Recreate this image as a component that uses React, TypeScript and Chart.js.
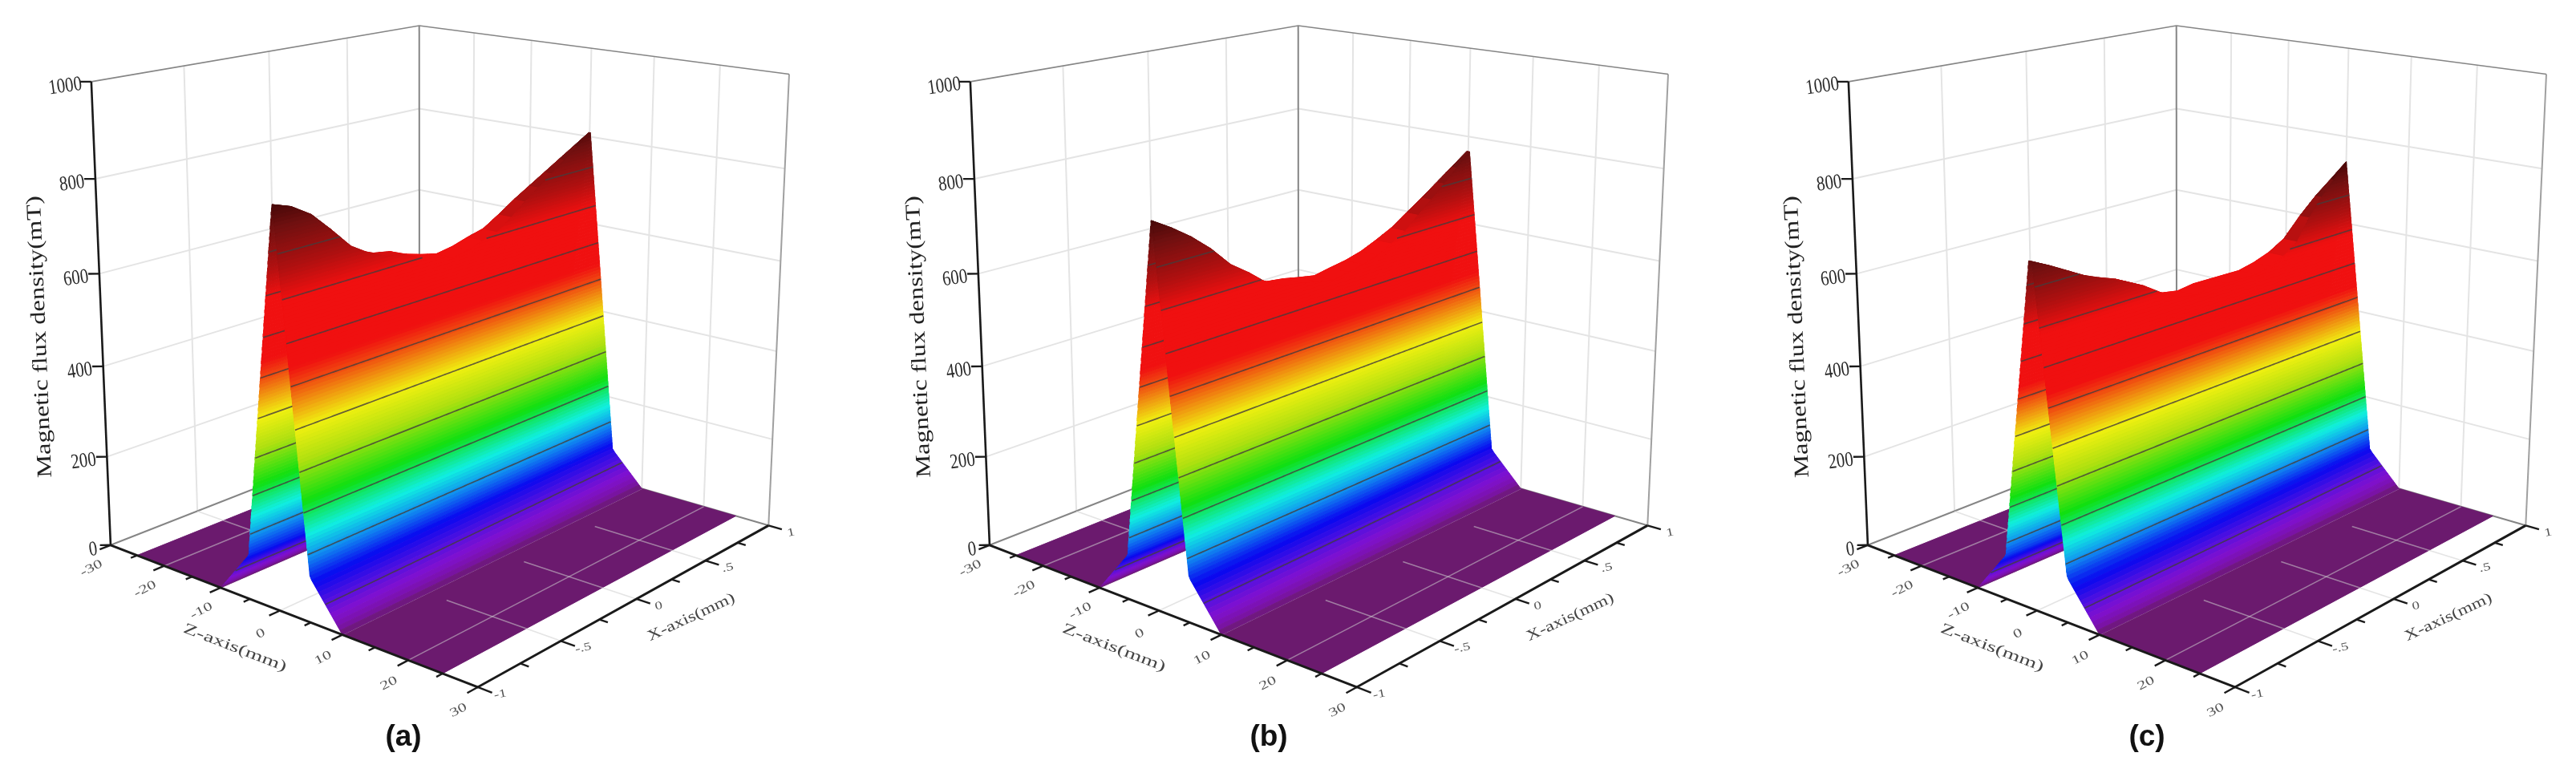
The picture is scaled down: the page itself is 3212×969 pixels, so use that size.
import React, { useEffect, useRef } from 'react';
import Chart from 'chart.js/auto';

const W = 1096, H = 969;
const panelLeft = [0, 1095.5, 2191];

// Peak field along the X axis (mT), one value per xGrid entry
const xGrid = [-1,-0.9,-0.8,-0.7,-0.6,-0.5,-0.4,-0.3,-0.2,-0.1,0,0.1,0.2,0.3,0.4,0.5,0.6,0.7,0.8,0.9,1];
const ridgeA = [826,813,789,750,708,684,668,661,645,634,625,631,642,651,674,699,721,743,765,787,809];
const ridgeB = [795,772,745,712,671,644,613,597,592,584,577,584,590,600,616,634,660,685,712,739,766];
const ridgeC = [716,697,676,655,639,625,606,581,562,555,560,559,558,557,565,578,600,644,681,711,742];
const ridges = [ridgeA, ridgeB, ridgeC];

// Cross-section of the ridge along the Z axis: foot at 10 mm, shoulder at 5 mm
const footZ = [10, 5];
const shoulderAtEnds = [95, 75]; // shoulder height (mT) at x=-1 and x=1
const floorEndZ = 25;

// Contour levels (mT)
const levelsA = [50,141,225,306,390,475,559,644,732];
const levelsB = [52,133,214,295,375,456,539,623,706];
const levelsC = [44,122,200,278,353,432,511,588,667];
const contourLevels = [levelsA, levelsB, levelsC];

const zMajor = [-30,-20,-10,0,10,20,30], zMinor = [-25,-15,-5,5,15,25];
const xMajor = [-1,-0.5,0,0.5,1], xMinor = [-0.75,-0.25,0.25,0.75];
const yMajor = [0,200,400,600,800,1000];
const zLabels = ['-30','-20','-10','0','10','20','30'];
const xLabels = ['-1','-.5','0','.5','1'];
const yLabels = ['0','200','400','600','800','1000'];
const panelNames = ['(a)','(b)','(c)'];
const nameX = [503,486,486];

// Camera: corners of the plot box (x, y/1000, z/30) -> page position
const CAL = [[-1,0,-1,138,684],[-1,1,-1,113.5,101],[1,1,-1,523,34],[1,0,-1,523,524],[1,0,1,958,660],[1,1,1,984,91],[-1,0,1,596,853]];
function solveCam() {
  const A:number[][] = [], b:number[] = [];
  for (const [X,Y,Z,u0,v0] of CAL) {
    const u=u0/1000, v=v0/1000;
    A.push([X,Y,Z,1,0,0,0,0,-u*X,-u*Y,-u*Z]); b.push(u);
    A.push([0,0,0,0,X,Y,Z,1,-v*X,-v*Y,-v*Z]); b.push(v);
  }
  const n=11; const N=Array.from({length:n},()=>new Array(n+1).fill(0));
  for(let r=0;r<A.length;r++) for(let i=0;i<n;i++){ for(let j=0;j<n;j++) N[i][j]+=A[r][i]*A[r][j]; N[i][n]+=A[r][i]*b[r]; }
  for(let i=0;i<n;i++){ let p=i; for(let k=i;k<n;k++) if(Math.abs(N[k][i])>Math.abs(N[p][i])) p=k; [N[i],N[p]]=[N[p],N[i]];
    for(let k=0;k<n;k++) if(k!==i){ const f=N[k][i]/N[i][i]; for(let j=i;j<=n;j++) N[k][j]-=f*N[i][j]; } }
  return N.map((row,i)=>row[n]/row[i]);
}
const M = solveCam();
const proj=(x:number,y:number,z:number)=>{ const Y=y/1000,Z=z/30; const d=M[8]*x+M[9]*Y+M[10]*Z+1;
  return {x:1000*(M[0]*x+M[1]*Y+M[2]*Z+M[3])/d, y:1000*(M[4]*x+M[5]*Y+M[6]*Z+M[7])/d}; };

const colorStops:[number,number[]][]=[[0,[107,26,110]],[12,[122,18,168]],[30,[128,16,208]],[55,[80,16,224]],[85,[8,8,240]],[135,[16,144,240]],[180,[16,240,224]],[245,[16,224,16]],[325,[176,224,16]],[390,[240,240,16]],[440,[240,144,16]],[480,[240,64,16]],[510,[240,16,16]],[640,[240,16,16]],[700,[176,16,16]],[780,[112,16,16]],[826,[70,8,8]]];
function colorAt(h:number){ for(let i=0;i<colorStops.length-1;i++){ const [a,ca]=colorStops[i],[b,cb]=colorStops[i+1]; if(h<=b){ const t=(h-a)/(b-a); return `rgb(${ca.map((c,k)=>Math.round(c+t*(cb[k]-c))).join(',')})`; } } const c=colorStops[colorStops.length-1][1]; return `rgb(${c.join(',')})`; }
const fine=Array.from({length:161},(_,i)=>-1+i/80);
function peakAt(r:number[],x:number){ const f=(x+1)*10; const i=Math.min(19,Math.floor(f)); return r[i]+(f-i)*(r[i+1]-r[i]); }
function runs(r:number[],h:number){ const out:number[][]=[]; let cur:number[]|null=null;
  for(let i=0;i<fine.length;i++){ const x=fine[i],p=peakAt(r,x); if(p>h){ if(!cur){cur=[]; if(i>0){const p0=peakAt(r,fine[i-1]); cur.push(fine[i-1]+(h-p0)/(p-p0)*(x-fine[i-1]));} } cur.push(x);} else if(cur){ const p0=peakAt(r,fine[i-1]); cur.push(fine[i-1]+(h-p0)/(p-p0)*(x-fine[i-1])); out.push(cur); cur=null; } }
  if(cur) out.push(cur); return out; }

const poly=(pts:any[],c:string)=>({data:[...pts,pts[0]],borderColor:c,backgroundColor:c,borderWidth:1,fill:'shape',pointRadius:0,tension:0});
const seg=(pts:any[],c:string,w:number)=>({data:pts,borderColor:c,borderWidth:w,fill:false,pointRadius:0,tension:0});

function buildDatasets(pi:number){ const r=ridges[pi]; const D:any[]=[]; const grid='#e4e4e4', edge='#858585', black='#1a1a1a', floorGrid='rgba(205,205,205,0.55)';
  const top=Math.max(...r), T=top+4, cs=826/top;
  const col=(h:number)=>colorAt(h*cs);
  const kink=(x:number)=>shoulderAtEnds[0]+(x+1)/2*(shoulderAtEnds[1]-shoulderAtEnds[0]);
  const zOf=(h:number,x:number)=>{ const k=kink(x); return h<=k ? footZ[0]+(h/k)*(footZ[1]-footZ[0]) : footZ[1]*(1-(h-k)/(T-k)); };
  for(const x of [-0.5,0,0.5]) D.push(seg([proj(x,0,-30),proj(x,1000,-30)],grid,2));
  for(const y of [200,400,600,800]) D.push(seg([proj(-1,y,-30),proj(1,y,-30)],grid,2));
  for(const z of [-20,-10,0,10,20]) D.push(seg([proj(1,0,z),proj(1,1000,z)],grid,2));
  for(const y of [200,400,600,800]) D.push(seg([proj(1,y,-30),proj(1,y,30)],grid,2));
  D.push(seg([proj(1,0,-30),proj(1,1000,-30)],edge,2));
  D.push(seg([proj(1,0,30),proj(1,1000,30)],'#a0a0a0',2));
  D.push(seg([proj(-1,1000,-30),proj(1,1000,-30),proj(1,1000,30)],edge,1.6));
  D.push(seg([proj(-1,0,-30),proj(1,0,-30),proj(1,0,30)],edge,2));
  const floorC=colorAt(0);
  D.push(poly([proj(-1,0,-floorEndZ),proj(1,0,-floorEndZ),proj(1,0,-footZ[0]),proj(-1,0,-footZ[0])],floorC));
  D.push(poly([proj(-1,0,footZ[0]),proj(1,0,footZ[0]),proj(1,0,floorEndZ),proj(-1,0,floorEndZ)],floorC));
  for(const z of [-20,-10,0,10,20]) D.push(seg([proj(-1,0,z),proj(1,0,z)],floorGrid,1.6));
  for(const x of [-0.5,0,0.5]) { D.push(seg([proj(x,0,-30),proj(x,0,-13)],floorGrid,1.6)); D.push(seg([proj(x,0,13),proj(x,0,30)],floorGrid,1.6)); }
  const step=7, levels:number[]=[]; for(let h=0;h<top;h+=step) levels.push(h);
  const strip=(h0:number,sign:number)=>{ const h1=h0+step; for(const run of runs(r,h0)){ const lo=run.map(x=>proj(x,h0,sign*zOf(h0,x))); const hi=run.map(x=>{const y=Math.min(h1,peakAt(r,x)); return proj(x,y,sign*zOf(y,x));}).reverse(); D.push(poly([...lo,...hi],col(h0+step/2))); } };
  const lineC='rgba(70,60,60,0.8)';
  for(const h of levels) strip(h,-1);
  for(const h of contourLevels[pi]) for(const run of runs(r,h)) D.push(seg(run.map(x=>proj(x,h,-zOf(h,x))),lineC,1.7));
  for(let i=0;i<xGrid.length-1;i++){ const a=xGrid[i],b=xGrid[i+1],pa=r[i],pb=r[i+1]; D.push(poly([proj(a,pa,-zOf(pa,a)),proj(b,pb,-zOf(pb,b)),proj(b,pb,zOf(pb,b)),proj(a,pa,zOf(pa,a))],col((pa+pb)/2))); }
  for(const h of [...levels].reverse()) strip(h,1);
  for(const h of contourLevels[pi]) for(const run of runs(r,h)) D.push(seg(run.map(x=>proj(x,h,zOf(h,x))),lineC,1.7));
  D.push(seg([proj(-1,0,-30),proj(-1,1000,-30)],black,2.6));
  D.push(seg([proj(-1,0,-30),proj(-1,0,30),proj(1,0,30)],black,3));
  for(const y of yMajor) D.push(seg([proj(-1,y,-30),proj(-1.03,y,-31)],black,2.4));
  for(const z of zMajor) D.push(seg([proj(-1,0,z),proj(-1.06,0,z)],black,2.4));
  for(const z of zMinor) D.push(seg([proj(-1,0,z),proj(-1.035,0,z)],black,2.4));
  for(const x of xMajor) D.push(seg([proj(x,0,30),proj(x,0,32)],black,2.4));
  for(const x of xMinor) D.push(seg([proj(x,0,30),proj(x,0,31.2)],black,2.4));
  return D.reverse(); }

function txt(ctx:any,s:string,x:number,y:number,deg:number,font:string,color:string,sx=1,sy=1){ ctx.save(); ctx.translate(x,y); ctx.rotate(deg*Math.PI/180); ctx.scale(sx,sy); ctx.font=font; ctx.fillStyle=color; ctx.textAlign='center'; ctx.textBaseline='middle'; ctx.fillText(s,0,0); ctx.restore(); }
const SERIF='"Liberation Serif"';
const labelPlugin=(pi:number)=>({id:'labels'+pi,afterDraw(chart:any){ const ctx=chart.ctx, sx=chart.scales.x, sy=chart.scales.y; const X=(v:number)=>sx.getPixelForValue(v),Y=(v:number)=>sy.getPixelForValue(v);
  yMajor.forEach((y,i)=>{ const p=proj(-1,y,-30); const w=[9,26,26,26,26,34][i]; txt(ctx,yLabels[i],X(p.x-18-w/2*0.85),Y(p.y+6),-8,`26px ${SERIF}`,'#2a2a2a',0.8,1); });
  zMajor.forEach((z,i)=>{ const p=proj(-1,0,z); txt(ctx,zLabels[i],X(p.x-24),Y(p.y+29),-27,`22px ${SERIF}`,'#555',1,0.7); });
  xMajor.forEach((x,i)=>{ const p=proj(x,0,30); txt(ctx,xLabels[i],X(p.x+28),Y(p.y+9),-12,`20px ${SERIF}`,'#555',0.95,0.7); });
  txt(ctx,'Magnetic flux density(mT)',X(50),Y(420),-92.3,`26px ${SERIF}`,'#222',1.25,1);
  txt(ctx,'Z-axis(mm)',X(293),Y(808),21,`22px ${SERIF}`,'#444',1.3,0.85);
  txt(ctx,'X-axis(mm)',X(862),Y(770),-25,`22px ${SERIF}`,'#444',1.1,0.85);
  txt(ctx,panelNames[pi],X(nameX[pi]),Y(920),0,'bold 37px "Liberation Sans"','#111');
}});

function Panel({index}:{index:number}){ const ref=useRef<HTMLCanvasElement>(null);
  useEffect(()=>{ const chart=new Chart(ref.current as any,{type:'line',data:{datasets:buildDatasets(index)} as any,plugins:[labelPlugin(index)],options:{responsive:false,animation:false,events:[],layout:{padding:0},plugins:{legend:{display:false},tooltip:{enabled:false},title:{display:false}},scales:{x:{type:'linear',min:0,max:W,display:false},y:{type:'linear',min:0,max:H,reverse:true,display:false}}}} as any); return ()=>chart.destroy(); },[index]);
  return <canvas ref={ref} width={W} height={H} style={{position:'absolute',left:panelLeft[index],top:0,width:W,height:H,filter:'blur(0.7px)'}}/>; }

export default function App(){ return <div style={{position:'absolute',left:0,top:0,width:3212,height:969,overflow:'hidden',background:'#fff'}}>{[0,1,2].map(i=><Panel key={i} index={i}/>)}</div>; }
